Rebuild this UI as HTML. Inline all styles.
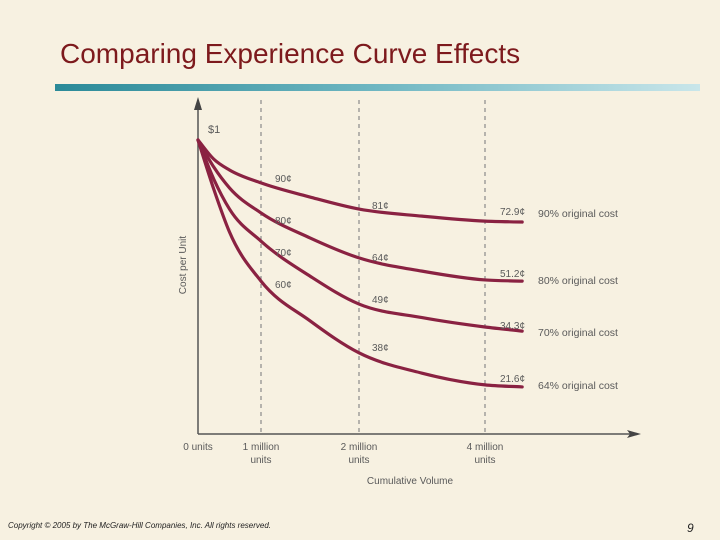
<!DOCTYPE html>
<html><head><meta charset="utf-8"><style>
body{margin:0;background:#f7f1e1;}
#wrap{position:relative;width:720px;height:540px;overflow:hidden;background:#f7f1e1;font-family:"Liberation Sans",sans-serif;}
#title{position:absolute;left:60px;top:38px;font-size:28px;color:#7d1a1d;white-space:nowrap;}
#bar{position:absolute;left:55px;top:84px;width:645px;height:7px;background:linear-gradient(90deg,#2b8a98,#6fb7c2 50%,#c9e6ea);}
#copy{position:absolute;left:8px;top:521px;font-size:8px;font-style:italic;color:#222;}
#pnum{position:absolute;left:687px;top:521px;font-size:12px;font-style:italic;color:#222;}
svg text{font-family:"Liberation Sans",sans-serif;fill:#5a5a5a;}
</style></head><body>
<div id="wrap">
<div id="title">Comparing Experience Curve Effects</div>
<div id="bar"></div>
<svg id="chart" width="720" height="540" style="position:absolute;left:0;top:0"></svg>
<div id="copy">Copyright © 2005 by The McGraw-Hill Companies, Inc. All rights reserved.</div>
<div id="pnum">9</div>
</div>
<script>
const xs = [0, 0.25, 0.5, 1, 1.5, 2, 3, 4, 4.59];
const series90 = [100, 93.5, 89.8, 85.4, 80.6, 76.5, 74.1, 72.4, 72.1];
const series80 = [100, 90.8, 83.7, 75.2, 66.7, 59.9, 55.4, 52.4, 52.0];
const series70 = [100, 86.7, 76.5, 65.6, 53.7, 44.2, 39.6, 36.4, 35.0];
const series64 = [100, 83.3, 68.7, 52.0, 38.5, 27.6, 20.7, 16.7, 16.0];
const seriesNames = ["90% original cost","80% original cost","70% original cost","64% original cost"];
const labels1M = ["90¢","80¢","70¢","60¢"];
const labels2M = ["81¢","64¢","49¢","38¢"];
const labels4M = ["72.9¢","51.2¢","34.3¢","21.6¢"];
const xTicks = [0,1,2,4];
const xTickLabels = [["0 units"],["1 million","units"],["2 million","units"],["4 million","units"]];

// layout offsets (pixels) for annotation placement
const dy1M=[-1,11,15,7], dy2M=[0,3,-1,-2], dy4M=[-6,-3,2,-3], dyName=[-5,3,5,2];

const NS="http://www.w3.org/2000/svg";
const svg=document.getElementById('chart');
const xd=[0,1,2,4,10], xr=[198,261,359,485,863];
function X(v){for(let i=0;i<xd.length-1;i++){if(v<=xd[i+1]||i==xd.length-2){return xr[i]+(v-xd[i])/(xd[i+1]-xd[i])*(xr[i+1]-xr[i]);}}}
function Y(v){return 434-v*2.94;}
function mk(t,a){const e=document.createElementNS(NS,t);for(const k in a)e.setAttribute(k,a[k]);svg.appendChild(e);return e;}
xTicks.slice(1).forEach(t=>{
 const l=mk('line',{x1:X(t),x2:X(t),y1:100,y2:434,stroke:'#8a8a8a','stroke-width':1.2,'stroke-dasharray':'4,4'});
 
 
});
let a=mk('line',{x1:198,y1:434,x2:198,y2:104,stroke:'#555','stroke-width':1.5});

a=mk('polygon',{points:'198,97 194,110 202,110',fill:'#444'});

a=mk('line',{x1:198,y1:434,x2:632,y2:434,stroke:'#555','stroke-width':1.5});

a=mk('polygon',{points:'641,434 627,430 630,434 627,438',fill:'#444'});

xTicks.forEach((t,i)=>{
 xTickLabels[i].forEach((s,j)=>{
  const tx=mk('text',{x:X(t),y:450+j*13,'font-size':10,'text-anchor':'middle'});
  tx.textContent=s;
  
  
 });
});
let t=mk('text',{x:410,y:484,'font-size':10,'text-anchor':'middle'});t.textContent='Cumulative Volume';

t=mk('text',{x:186,y:265,'font-size':10,'text-anchor':'middle',transform:'rotate(-90 186 265)'});t.textContent='Cost per Unit';

t=mk('text',{x:208,y:133,'font-size':11});t.textContent='$1';

const all=[series90,series80,series70,series64];
function path(vals){
 const p=xs.map((x,i)=>[X(x),Y(vals[i])]);
 const n=p.length, d=[], m=new Array(n);
 for(let i=0;i<n-1;i++)d.push((p[i+1][1]-p[i][1])/(p[i+1][0]-p[i][0]));
 m[0]=d[0];m[n-1]=d[n-2];
 for(let i=1;i<n-1;i++){
  if(d[i-1]*d[i]<=0){m[i]=0;continue;}
  const h0=p[i][0]-p[i-1][0],h1=p[i+1][0]-p[i][0];
  m[i]=(h0*d[i]+h1*d[i-1])/(h0+h1);
 }
 for(let i=0;i<n-1;i++){
  if(d[i]===0){m[i]=0;m[i+1]=0;continue;}
  const al=m[i]/d[i],be=m[i+1]/d[i],s=al*al+be*be;
  if(s>9){const tt=3/Math.sqrt(s);m[i]=tt*al*d[i];m[i+1]=tt*be*d[i];}
 }
 let s='M'+p[0][0]+','+p[0][1];
 for(let i=0;i<n-1;i++){
  const h=(p[i+1][0]-p[i][0])/3;
  s+=' C'+(p[i][0]+h)+','+(p[i][1]+m[i]*h)+' '+(p[i+1][0]-h)+','+(p[i+1][1]-m[i+1]*h)+' '+p[i+1][0]+','+p[i+1][1];
 }
 return s;
}
function valAt(vals,x){const i=xs.indexOf(x);return vals[i];}
all.forEach((vals,k)=>{
 const c=mk('path',{d:path(vals),fill:'none',stroke:'#8a2242','stroke-width':3.2,'stroke-linecap':'round','stroke-linejoin':'round'});
 
 
 [[labels1M,1,14,dy1M],[labels2M,2,13,dy2M],[labels4M,4,15,dy4M]].forEach(([arr,xv,dx,dy])=>{
  const l=mk('text',{x:X(xv)+dx,y:Y(valAt(vals,xv))+dy[k],'font-size':10});
  l.textContent=arr[k];
  
  
 });
 const nm=mk('text',{x:538,y:Y(vals[vals.length-1])+dyName[k],'font-size':10.5});
 nm.textContent=seriesNames[k];
 
 
});
</script>
</body></html>
